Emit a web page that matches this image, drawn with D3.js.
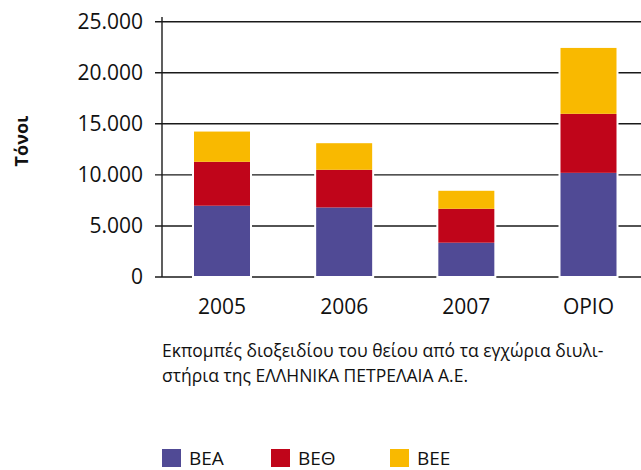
<!DOCTYPE html>
<html>
<head>
<meta charset="utf-8">
<script src="https://cdn.jsdelivr.net/npm/d3@7"></script>
<style>
  body { margin: 0; background: #fff; }
  svg { display: block; font-family: "Open Sans", sans-serif; }
</style>
</head>
<body>
<svg width="641" height="470"></svg>
<script>
// data (tonnes)
var categories = ["2005", "2006", "2007", "ΟΡΙΟ"];
var seriesNames = ["ΒΕΑ", "ΒΕΘ", "ΒΕΕ"];
var bea = [6980, 6810, 3360, 10200];
var beth = [4300, 3690, 3320, 5780];
var bee = [3060, 2700, 1860, 6550];
var yTicks = [0, 5000, 10000, 15000, 20000, 25000];
var colors = ["#504a95", "#c0051a", "#f9b900"];

var svg = d3.select('svg');

var rows = categories.map(function(c, i) {
    return {cat: c, "ΒΕΑ": bea[i], "ΒΕΘ": beth[i], "ΒΕΕ": bee[i]};
});
var stacked = d3.stack().keys(seriesNames)(rows);

var x = d3.scalePoint().domain(categories).range([222, 588.5]);
var y = d3.scaleLinear().domain([0, 25000]).range([277, 21.7]);
var barW = 58;

var fmt = function(d) { return d3.format(",")(d).replace(/,/g, "."); };

// gridlines
svg.selectAll('line.grid')
    .data(yTicks)
    .enter()
    .append('line')
    .attr('x1', 155)
    .attr('x2', 641)
    .attr('y1', function(d) { return y(d); })
    .attr('y2', function(d) { return y(d); })
    .attr('stroke', '#1a1a1a')
    .attr('stroke-width', 1.4);

// y axis line
svg.append('line')
    .attr('x1', 162).attr('x2', 162)
    .attr('y1', 17).attr('y2', 277)
    .attr('stroke', '#1a1a1a')
    .attr('stroke-width', 1.4);

// tick labels
svg.selectAll('text.ytick')
    .data(yTicks)
    .enter()
    .append('text')
    .attr('x', 143)
    .attr('y', function(d) { return y(d) + 7; })
    .attr('text-anchor', 'end')
    .attr('font-size', 21)
    .attr('fill', '#111')
    .text(fmt);

// bars
svg.selectAll('g.layer')
    .data(stacked)
    .enter()
    .append('g')
    .attr('fill', function(d, i) { return colors[i]; })
    .selectAll('rect')
    .data(function(d) { return d; })
    .enter()
    .append('rect')
    .attr('x', function(d) { return x(d.data.cat) - barW / 2; })
    .attr('y', function(d) { return y(d[1]); })
    .attr('width', barW)
    .attr('height', function(d) { return y(d[0]) - y(d[1]); });

// white frame round each whole bar
svg.selectAll('rect.frame')
    .data(rows)
    .enter()
    .append('rect')
    .attr('x', function(d) { return x(d.cat) - barW / 2; })
    .attr('y', function(d) { return y(d["ΒΕΑ"] + d["ΒΕΘ"] + d["ΒΕΕ"]); })
    .attr('width', barW)
    .attr('height', function(d) { return y(0) - y(d["ΒΕΑ"] + d["ΒΕΘ"] + d["ΒΕΕ"]); })
    .attr('fill', 'none')
    .attr('stroke', '#fff')
    .attr('stroke-width', 2);

// category labels
svg.selectAll('text.xlab')
    .data(categories)
    .enter()
    .append('text')
    .attr('x', function(d) { return x(d); })
    .attr('y', 314)
    .attr('text-anchor', 'middle')
    .attr('font-size', 21)
    .attr('fill', '#111')
    .text(function(d) { return d; });

// y title
svg.append('text')
    .attr('transform', 'translate(28,141) rotate(-90)')
    .attr('text-anchor', 'middle')
    .attr('font-size', 18)
    .attr('font-weight', 'bold')
    .attr('fill', '#111')
    .text('Τόνοι');

// caption
var caption = ["Εκπομπές διοξειδίου του θείου από τα εγχώρια διυλι-",
               "στήρια της ΕΛΛΗΝΙΚΑ ΠΕΤΡΕΛΑΙΑ Α.Ε."];
svg.selectAll('text.cap')
    .data(caption)
    .enter()
    .append('text')
    .attr('x', 162)
    .attr('y', function(d, i) { return 357 + i * 25; })
    .attr('font-size', 17.5)
    .attr('fill', '#111')
    .text(function(d) { return d; });

// legend
var legendX = [162, 271, 390];
var leg = svg.selectAll('g.leg')
    .data(seriesNames)
    .enter()
    .append('g')
    .attr('transform', function(d, i) { return 'translate(' + legendX[i] + ',449)'; });
leg.append('rect')
    .attr('width', 19)
    .attr('height', 18)
    .attr('fill', function(d, i) { return colors[i]; });
leg.append('text')
    .attr('x', 27)
    .attr('y', 16)
    .attr('font-size', 19)
    .attr('fill', '#111')
    .text(function(d) { return d; });
</script>
</body>
</html>
